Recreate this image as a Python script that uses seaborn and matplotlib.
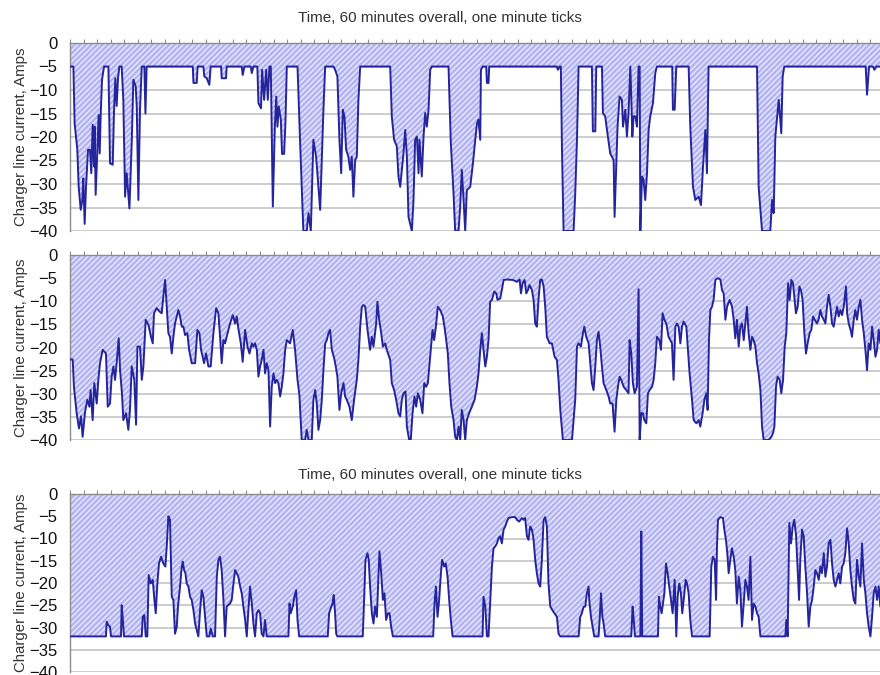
import numpy as np
import matplotlib
matplotlib.use("Agg")
import matplotlib.pyplot as plt
import seaborn as sns

# Charger line current (Amps) vs time (minutes), three traces
top_t = [0, 0.25, 0.34, 0.54, 0.64, 0.79, 0.91, 0.98, 1.08, 1.18, 1.33, 1.47, 1.57, 1.67, 1.77, 1.82,
         1.89, 2.02, 2.11, 2.19, 2.26, 2.36, 2.51, 2.83, 2.95, 3.15, 3.24, 3.34, 3.44, 3.54, 3.64, 3.81,
         3.93, 4.06, 4.18, 4.38, 4.55, 4.67, 4.84, 4.92, 5.04, 5.16, 5.29, 5.48, 5.56, 5.65, 9.05, 9.1,
         9.34, 9.41, 9.83, 9.9, 10.08, 10.27, 10.37, 11.14, 11.18, 11.5, 11.55, 12.66, 12.73, 12.86,
         13.32, 13.4, 13.52, 13.81, 13.89, 14.08, 14.16, 14.31, 14.46, 14.58, 14.7, 14.8, 14.95, 15.1,
         15.2, 15.29, 15.39, 15.54, 15.63, 15.78, 15.88, 15.98, 16.77, 16.96, 17.2, 17.45, 17.58, 17.75,
         17.94, 18.14, 18.31, 18.44, 18.56, 18.68, 18.81, 19.42, 19.54, 19.71, 19.86, 19.99, 20.11,
         20.23, 20.35, 20.52, 20.65, 20.77, 20.89, 21.02, 21.14, 21.26, 21.39, 23.6, 23.72, 23.89, 24.09,
         24.21, 24.34, 24.58, 24.71, 24.83, 24.95, 25.2, 25.32, 25.44, 25.57, 25.69, 25.76, 25.93, 26.06,
         26.18, 26.3, 26.43, 26.55, 26.67, 27.9, 28.07, 28.27, 28.39, 28.64, 28.76, 28.88, 29.01, 29.13,
         29.25, 29.5, 29.7, 29.87, 30.0, 30.11, 30.24, 30.29, 30.43, 30.68, 30.73, 30.85, 30.9, 35.89,
         35.96, 36.09, 36.18, 36.26, 36.38, 37.12, 37.24, 37.37, 37.49, 38.47, 38.54, 38.72, 38.79,
         39.21, 39.28, 39.45, 39.58, 39.82, 40.07, 40.14, 40.27, 40.36, 40.51, 40.68, 40.76, 40.93,
         41.05, 41.17, 41.3, 41.37, 41.45, 41.54, 41.67, 41.79, 41.91, 41.99, 42.04, 42.16, 42.28, 42.4,
         42.53, 42.65, 42.77, 42.97, 43.14, 43.26, 44.39, 44.44, 44.57, 44.69, 45.6, 45.72, 45.92, 46.09,
         46.34, 46.51, 46.66, 46.83, 46.95, 47.07, 50.64, 50.76, 51.01, 51.62, 51.75, 51.87, 51.99, 52.24,
         52.43, 52.53, 52.65, 58.65, 58.75, 58.9, 59.19, 59.29, 59.44, 60]
top_amps = [-5, -5, -17.1, -22.7, -30.6, -35.5, -33.4, -28.8, -38.5, -30.6, -22.7, -22.7, -27.7, -17.4,
            -26.3, -17.8, -32.3, -22.7, -15.3, -23.5, -15.6, -7.8, -5, -5, -25.6, -25.9, -14.9, -7.5,
            -13.4, -7.5, -5, -5, -12.1, -32.7, -27.7, -35.2, -21.3, -7.8, -9.2, -13.5, -33.4, -14.2, -5,
            -5, -15, -5, -5, -8.5, -8.5, -5, -5, -7.1, -7.5, -8.9, -5, -5, -7.5, -7.5, -5, -5, -6.8, -5,
            -5, -6.4, -5, -5, -12.8, -13.9, -5.7, -12.1, -5.7, -12.1, -5, -5, -34.8, -17.8, -11.4, -17.8,
            -13.5, -16.3, -23.6, -23.6, -17.1, -5, -5, -21, -40, -40, -36.2, -40, -20.6, -24.2, -30.6,
            -35.5, -24.9, -14.2, -5, -5, -5.7, -7.1, -20.6, -27.7, -14.2, -15.6, -22.7, -24.2, -27,
            -24.2, -32.7, -24.9, -24.2, -12.1, -5, -5, -15.6, -20.6, -22, -28.4, -30.6, -23.5, -18.5,
            -24.2, -37, -40, -33.4, -20.6, -19.9, -27.7, -20.6, -28.4, -19.9, -14.9, -17.8, -14.2, -5.7,
            -5, -5, -21.3, -32, -40, -40, -34.8, -27, -33.4, -40, -31.3, -30.6, -25.6, -20.6, -17.1,
            -16.3, -20.6, -5.7, -5, -5, -8.5, -8.5, -5, -5, -5.7, -5, -5, -22, -40, -40, -32, -20.6, -5,
            -5, -18.8, -18.8, -5, -5, -14.9, -15.6, -18.5, -23.5, -24.9, -37, -25.6, -17.8, -11.4, -12.1,
            -17.8, -14.2, -19.9, -14.9, -5, -11.4, -19.9, -15.6, -15.6, -17.8, -5, -5, -40, -28.4, -29.1,
            -33.4, -27.7, -18.5, -15.6, -12.8, -6.4, -5, -5, -14.2, -14.2, -5, -5, -17.8, -30.6, -33.4,
            -32.7, -34.5, -26.3, -18.5, -27.7, -5, -5, -30.6, -40, -40, -33.4, -36.2, -19.9, -12.1, -19.2,
            -7.1, -5, -5, -11, -5, -5, -5.7, -5, -5]

mid_t = [0, 0.2, 0.29, 0.49, 0.66, 0.81, 0.93, 1.11, 1.28, 1.43, 1.52, 1.67, 1.79, 1.97, 2.09, 2.21,
         2.41, 2.65, 2.78, 2.95, 3.07, 3.2, 3.32, 3.44, 3.59, 3.69, 3.83, 3.93, 4.13, 4.3, 4.42, 4.55,
         4.74, 4.87, 4.97, 5.16, 5.29, 5.41, 5.58, 5.78, 5.97, 6.1, 6.19, 6.39, 6.59, 6.76, 6.88, 7.01,
         7.13, 7.25, 7.37, 7.5, 7.62, 7.74, 7.99, 8.11, 8.24, 8.36, 8.48, 8.65, 8.78, 8.97, 9.22, 9.39,
         9.54, 9.66, 9.88, 10.03, 10.2, 10.37, 10.57, 10.77, 10.94, 11.06, 11.18, 11.31, 11.43, 11.55,
         11.8, 12.0, 12.17, 12.29, 12.41, 12.59, 12.73, 12.91, 13.08, 13.23, 13.4, 13.52, 13.64, 13.77,
         13.89, 14.01, 14.13, 14.26, 14.38, 14.5, 14.63, 14.75, 14.87, 15.0, 15.12, 15.24, 15.36, 15.49,
         15.61, 15.73, 15.86, 15.98, 16.22, 16.42, 16.59, 16.77, 16.91, 17.08, 17.33, 17.45, 17.58,
         17.82, 17.94, 18.07, 18.19, 18.31, 18.44, 18.56, 18.68, 18.81, 18.93, 19.05, 19.17, 19.3, 19.47,
         19.59, 19.71, 19.86, 19.99, 20.16, 20.28, 20.4, 20.6, 20.77, 20.94, 21.14, 21.26, 21.39, 21.51,
         21.63, 21.76, 21.93, 22.12, 22.25, 22.37, 22.57, 22.66, 22.79, 22.94, 23.06, 23.23, 23.35, 23.6,
         23.72, 23.89, 24.04, 24.21, 24.34, 24.46, 24.58, 24.73, 24.83, 25.0, 25.12, 25.25, 25.39, 25.52,
         25.64, 25.81, 25.98, 26.11, 26.25, 26.38, 26.55, 26.72, 26.84, 26.97, 27.11, 27.29, 27.48, 27.6,
         27.73, 27.85, 27.97, 28.1, 28.27, 28.39, 28.52, 28.64, 28.76, 28.88, 29.01, 29.13, 29.25, 29.42,
         29.62, 29.82, 29.99, 30.11, 30.24, 30.36, 30.48, 30.61, 30.73, 30.85, 30.97, 31.1, 31.27, 31.42,
         31.51, 31.71, 31.83, 31.96, 32.2, 32.65, 32.94, 33.14, 33.24, 33.36, 33.51, 33.63, 33.75, 33.87,
         34.05, 34.17, 34.29, 34.41, 34.54, 34.66, 34.78, 34.91, 35.03, 35.15, 35.35, 35.52, 35.72, 35.89,
         36.01, 36.14, 36.33, 37.0, 37.12, 37.24, 37.37, 37.49, 37.66, 37.81, 37.91, 38.05, 38.23, 38.35,
         38.47, 38.59, 38.72, 38.84, 38.96, 39.08, 39.21, 39.33, 39.53, 39.7, 39.82, 39.99, 40.14, 40.27,
         40.39, 40.51, 40.63, 40.81, 41.0, 41.17, 41.25, 41.37, 41.49, 41.62, 41.79, 41.91, 41.99, 42.11,
         42.23, 42.33, 42.48, 42.6, 42.72, 42.9, 43.02, 43.14, 43.26, 43.44, 43.56, 43.68, 43.81, 43.95,
         44.12, 44.25, 44.37, 44.49, 44.62, 44.74, 44.86, 44.99, 45.11, 45.23, 45.43, 45.55, 45.67, 45.85,
         45.97, 46.17, 46.34, 46.46, 46.63, 46.76, 46.9, 47.0, 47.1, 47.2, 47.32, 47.44, 47.57, 47.74,
         47.94, 48.06, 48.18, 48.31, 48.43, 48.62, 48.8, 48.92, 49.04, 49.16, 49.29, 49.41, 49.53, 49.66,
         49.78, 49.9, 50.02, 50.15, 50.27, 50.39, 50.52, 50.64, 50.76, 50.89, 51.01, 51.13, 51.5, 51.7,
         51.82, 51.92, 52.04, 52.16, 52.31, 52.43, 52.56, 52.68, 52.8, 52.93, 53.05, 53.17, 53.29, 53.39,
         53.51, 53.64, 53.76, 53.88, 54.0, 54.13, 54.25, 54.37, 54.52, 54.64, 54.77, 54.89, 55.06, 55.18,
         55.31, 55.43, 55.56, 55.68, 55.8, 55.92, 56.05, 56.17, 56.29, 56.42, 56.54, 56.66, 56.78, 56.91,
         57.03, 57.2, 57.28, 57.4, 57.57, 57.64, 57.77, 57.89, 58.01, 58.14, 58.26, 58.38, 58.51, 58.63,
         58.75, 58.87, 59.0, 59.12, 59.24, 59.37, 59.49, 59.61, 59.73, 60]
mid_amps = [-22.6, -22.6, -28.5, -34.2, -37.5, -34.9, -39.3, -33.9, -31.3, -32.8, -29.2, -35.7, -27.7,
            -32.1, -27, -23.4, -20.5, -21.3, -32.8, -32.1, -26.3, -24.1, -27, -23.4, -18, -24.9, -29.9,
            -35.7, -34.2, -37.8, -33.5, -24.1, -27, -36.7, -19.8, -19.8, -27, -24.1, -14, -15.1, -17.7,
            -19.1, -12.6, -11.5, -12.2, -12.6, -9, -5.4, -11.2, -16.9, -17.7, -21.3, -17.7, -14.8, -11.9,
            -13.3, -15.5, -15.5, -17.3, -16.9, -20.5, -23.4, -23.4, -16.2, -16.9, -20.5, -23.4, -21.3,
            -24.1, -24.1, -16.9, -11.5, -12.6, -17.7, -23.4, -18.4, -19.1, -17.7, -14.8, -13, -14.8, -13.3,
            -15.9, -19.1, -23.1, -16.2, -19.8, -21.3, -19.1, -19.8, -19.1, -20.5, -26.3, -24.1, -22.7,
            -20.5, -25.6, -23.4, -24.9, -37.1, -28.5, -25.6, -27.7, -27, -27.7, -30.6, -28.5, -25.6, -20.5,
            -18.4, -19.1, -16.2, -20.5, -27, -30.3, -40, -40, -37.8, -40, -40, -31.3, -29.2, -32.1, -37.8,
            -35.7, -31.3, -24.9, -19.1, -18.4, -16.9, -16.2, -20.5, -22.3, -24.1, -26.3, -33.5, -29.9,
            -27.7, -30.6, -31.3, -32.8, -35.7, -31.3, -27, -22.7, -15.5, -11.2, -10.8, -11.2, -16.2, -20.5,
            -17.7, -19.8, -14.8, -10.1, -14, -16.9, -19.8, -19.1, -20.5, -22.7, -27.7, -29.2, -31.3, -34.2,
            -34.9, -31.3, -29.9, -29.5, -37.1, -40, -40, -34.2, -30.6, -32.8, -29.9, -31.3, -34.2, -27.7,
            -28.5, -27.7, -22, -16.2, -18.4, -15.5, -11.2, -11.9, -13.3, -15.5, -18.4, -21.3, -27.7, -32.8,
            -35.7, -39.3, -40, -37.1, -40, -33.5, -35.7, -40, -35.7, -34.2, -32.8, -31.3, -28.5, -25.6,
            -20.5, -16.9, -20.5, -24.1, -22, -18.4, -10.1, -9.7, -7.9, -8.3, -9.7, -9.4, -7.6, -5.4, -5.3,
            -5.4, -5.8, -5.3, -8.3, -6.1, -5.4, -8.3, -7.6, -6.5, -7.6, -9.7, -14.8, -15.5, -9.4, -5.4,
            -5.3, -6.8, -11.2, -17.7, -19.1, -19.1, -22, -22.7, -27, -33.5, -40, -40, -35.7, -31.3, -19.8,
            -19.1, -19.8, -16.9, -15.5, -17.7, -19.1, -23.4, -27.7, -29.2, -24.1, -18.4, -16.6, -19.8,
            -24.1, -27.7, -29.2, -30.6, -32.1, -32.1, -38.2, -31.3, -28.5, -26.3, -27, -28.5, -29.2, -29.9,
            -18.4, -21.3, -27.7, -29.9, -28.5, -7.4, -40, -34.2, -34.2, -35.7, -36.4, -29.9, -29.2, -28.5,
            -27, -23.4, -17.7, -18.4, -20.5, -12.6, -14, -14.8, -17.7, -18.4, -19.1, -27, -15.5, -14.8,
            -15.5, -19.1, -15.5, -14.4, -15.5, -20.5, -25.6, -31.3, -35.7, -36.4, -35.7, -37.1, -34.2,
            -31.3, -29.9, -33.5, -18.4, -11.9, -11.2, -9.7, -5.4, -5, -5.3, -7.6, -8.3, -14, -11.2, -9.7,
            -11.2, -14, -18, -14, -19.8, -15.5, -14.8, -18.4, -14.8, -11.2, -16.9, -20.5, -17.7, -18.4,
            -19.8, -23.4, -25.6, -29.2, -37.1, -40, -40, -39.3, -38.5, -37.1, -28.5, -26.3, -27, -29.9, -27,
            -19.8, -16.9, -6.1, -9.7, -5.4, -6.1, -9, -12.6, -11.2, -6.8, -7.6, -9.7, -16.9, -21.3, -19.1,
            -16.9, -16.2, -13.3, -14, -14.8, -14, -11.9, -13.3, -14, -14.8, -11.2, -8.6, -11.2, -14.8,
            -15.5, -13.3, -11.2, -13.3, -11.9, -13, -11.2, -6.8, -12.6, -14.8, -16.6, -17.7, -14, -11.9,
            -14, -11.2, -9.7, -14, -16.9, -20.5, -24.9, -19.1, -20.5, -15.5, -18.4, -22, -20.5, -16.2,
            -19.1, -20]

bot_t = [0, 2.65, 2.7, 2.83, 2.95, 3.02, 3.76, 3.81, 3.88, 3.98, 5.29, 5.36, 5.48, 5.58, 5.7, 5.8,
         5.95, 6.1, 6.22, 6.32, 6.44, 6.56, 6.71, 6.88, 7.03, 7.13, 7.25, 7.37, 7.5, 7.62, 7.74, 7.87,
         7.96, 8.11, 8.24, 8.31, 8.41, 8.51, 8.6, 8.73, 8.85, 8.97, 9.1, 9.22, 9.34, 9.46, 9.59, 9.71,
         9.83, 9.96, 10.08, 10.28, 10.37, 10.52, 10.69, 10.82, 10.94, 11.06, 11.18, 11.31, 11.43, 11.55,
         11.8, 11.92, 12.05, 12.17, 12.29, 12.41, 12.54, 12.66, 12.78, 12.91, 13.03, 13.15, 13.27, 13.4,
         13.52, 13.64, 13.77, 13.89, 14.01, 14.13, 14.26, 14.38, 14.5, 16.1, 16.18, 16.27, 16.42, 16.54,
         16.67, 16.77, 16.89, 19.0, 19.1, 19.22, 19.35, 19.44, 19.54, 19.62, 19.71, 21.58, 21.68, 21.78,
         21.93, 22.02, 22.12, 22.25, 22.37, 22.49, 22.62, 22.69, 22.81, 22.94, 23.06, 23.18, 23.3, 23.43,
         23.55, 23.67, 23.8, 26.77, 26.87, 26.97, 27.09, 27.21, 27.34, 27.43, 27.58, 27.7, 27.83, 27.95,
         28.07, 28.2, 30.41, 30.48, 30.61, 30.73, 30.85, 30.97, 31.1, 31.22, 31.34, 31.47, 31.59, 31.71,
         31.83, 31.96, 32.08, 32.2, 32.33, 32.57, 32.82, 32.94, 33.11, 33.31, 33.43, 33.55, 33.68, 33.8,
         33.92, 34.05, 34.17, 34.29, 34.41, 34.54, 34.66, 34.78, 34.91, 35.03, 35.15, 35.27, 35.4, 35.64,
         35.89, 36.01, 36.14, 37.49, 37.61, 37.73, 37.86, 37.98, 38.1, 38.23, 38.27, 38.4, 38.52, 38.64,
         38.96, 39.04, 39.14, 39.24, 39.33, 39.45, 41.37, 41.47, 41.54, 41.64, 42.04, 42.11, 42.18, 43.34,
         43.41, 43.51, 43.61, 43.71, 43.81, 43.93, 44.05, 44.17, 44.3, 44.42, 44.57, 44.69, 44.79, 44.91,
         45.03, 45.13, 45.26, 45.38, 45.48, 45.6, 45.72, 45.85, 47.15, 47.27, 47.39, 47.52, 47.62, 47.69,
         47.76, 47.94, 48.13, 48.23, 48.35, 48.45, 48.55, 48.67, 48.79, 48.92, 49.04, 49.16, 49.29, 49.41,
         49.53, 49.66, 49.78, 49.9, 50.02, 50.15, 50.27, 50.39, 50.52, 50.64, 50.76, 50.89, 52.73, 52.8,
         52.9, 53.02, 53.15, 53.27, 53.39, 53.52, 53.64, 53.74, 53.83, 53.96, 54.08, 54.2, 54.33, 54.45,
         54.57, 54.7, 54.82, 54.94, 55.06, 55.19, 55.31, 55.43, 55.56, 55.68, 55.8, 55.92, 56.05, 56.17,
         56.29, 56.42, 56.54, 56.66, 56.78, 56.91, 57.03, 57.15, 57.28, 57.4, 57.52, 57.64, 57.77, 57.89,
         58.01, 58.14, 58.26, 58.38, 58.51, 58.63, 58.75, 58.87, 59.0, 59.12, 59.24, 59.37, 59.49, 59.61,
         59.73, 60]
bot_amps = [-32, -32, -28.7, -29.5, -29.8, -32, -32, -25, -27.6, -32, -32, -27.6, -27.2, -32, -32,
            -18.2, -20.1, -19.3, -23.8, -26.8, -20.1, -15.6, -14.1, -15.6, -16.3, -11.8, -5, -5.8, -23.1,
            -23.8, -31.4, -29.8, -25.3, -20.8, -16.3, -15.2, -17.1, -17.8, -20.1, -20.8, -23.1, -23.8,
            -26.1, -29.1, -30.6, -32, -26.1, -21.6, -23.1, -27.6, -32, -32, -30.2, -32, -32, -18.6, -14.8,
            -14.1, -17.1, -23.8, -32, -25.3, -24.6, -23.8, -20.1, -17.1, -17.8, -18.6, -20.8, -22.3, -25.3,
            -28.3, -32, -26.1, -20.8, -24.6, -29.1, -32, -26.8, -26.1, -26.8, -31.4, -32, -28.3, -32, -32,
            -24.6, -26.8, -25.3, -23.1, -21.6, -28.3, -32, -32, -26.8, -25.7, -24.6, -22.7, -26.8, -31.4,
            -32, -32, -23.8, -14.8, -13.3, -14.8, -20.8, -26.8, -29.1, -25.3, -27.6, -22.3, -12.9, -17.8,
            -23.8, -22.3, -28.3, -26.8, -26.8, -29.8, -32, -32, -24.6, -20.8, -27.6, -23.8, -17.8, -14.8,
            -16.3, -15.6, -18.6, -23.8, -28.3, -32, -32, -23.1, -25.3, -32, -32, -24.6, -16.3, -12.2,
            -11.8, -11.1, -9.9, -9.5, -11.1, -8, -7.3, -6.2, -5.4, -5.2, -5.2, -5.8, -6.2, -5.4, -5.8,
            -5.4, -9.5, -10.3, -7.3, -8, -10.3, -14.8, -17.8, -20.1, -20.8, -14.8, -5.8, -5.2, -7.3, -20.1,
            -25.3, -26.5, -27.6, -31.4, -32, -32, -27.6, -26.8, -25.3, -25.3, -22.3, -20.8, -23.8, -27.6,
            -29.8, -32, -32, -28.3, -22.3, -27.6, -29.1, -32, -32, -25.3, -27.6, -32, -32, -8.4, -32, -32,
            -23.1, -25.3, -26.8, -24.6, -22.3, -15.6, -17.8, -20.8, -23.8, -26.8, -19.3, -32, -23.1, -20.1,
            -22.3, -26.8, -23.1, -19.3, -20.1, -22.3, -28.3, -32, -32, -16.3, -14.1, -14.8, -23.8, -11.8,
            -5.8, -5.2, -5.4, -8, -10.3, -13.3, -17.8, -14.8, -12.2, -14.1, -17.1, -24.6, -18.6, -21.6,
            -29.8, -24.6, -19.3, -20.8, -23.8, -14.1, -28.3, -24.6, -25.3, -26.8, -27.6, -32, -32, -28.3,
            -32, -6.5, -11.1, -7.3, -5.8, -9.5, -17.1, -23.8, -14.8, -8, -9.5, -16.3, -22.3, -29.8, -25.3,
            -23.8, -20.8, -17.1, -17.8, -19.3, -16.3, -17.8, -13.3, -18.6, -16.3, -11.1, -10.3, -15.6,
            -19.3, -20.8, -19.3, -17.8, -20.1, -16.3, -15.6, -13.3, -7.7, -11.1, -17.1, -20.8, -23.8, -24.6,
            -14.8, -18.6, -20.8, -11.1, -19.3, -22.3, -26.8, -29.8, -32, -27.6, -22.3, -20.8, -23.8, -20.8,
            -25.3, -25]

title = "Time, 60 minutes overall, one minute ticks"
ylab = "Charger line current, Amps"
yticks = [0, -5, -10, -15, -20, -25, -30, -35, -40]

sns.set_style("white")
plt.rcParams["font.family"] = ["Liberation Sans", "DejaVu Sans"]
plt.rcParams["hatch.linewidth"] = 1.1

line_col = "#24249c"
fill_col = "#b2b2f2"
hatch_col = "#e6e6fe"
grid_col = "#c4c4c4"
axis_col = "#8c8c8c"

fig = plt.figure(figsize=(8.8, 6.75), dpi=100)
left, width = 70 / 880, 814 / 880
rects = [(1 - 231 / 675, 188 / 675), (1 - 440 / 675, 185 / 675), (1 - 672 / 675, 178 / 675)]
series = [(top_t, top_amps), (mid_t, mid_amps), (bot_t, bot_amps)]

for (bottom, height), (t, amps) in zip(rects, series):
    ax = fig.add_axes([left, bottom, width, height])
    ax.set_axisbelow(True)
    ax.fill_between(t, 0, amps, facecolor=fill_col, edgecolor=hatch_col,
                    hatch="//////", linewidth=0, zorder=1)
    sns.lineplot(x=t, y=amps, ax=ax, color=line_col, lw=1.4, estimator=None,
                 sort=False, zorder=3)
    ax.set_xlim(0, 60)
    ax.set_ylim(-40, 0)
    ax.set_yticks(yticks)
    ax.set_xticks(np.arange(0, 61, 1))
    ax.xaxis.tick_top()
    ax.tick_params(axis="x", which="both", direction="out", length=3, width=0.8,
                   color=axis_col, labeltop=False, labelbottom=False)
    ax.tick_params(axis="y", direction="out", length=4, width=0.8, color=axis_col,
                   labelsize=12, pad=5, labelcolor="#111111")
    ax.yaxis.grid(True, color=grid_col, lw=1.2)
    ax.xaxis.grid(False)
    for side in ["bottom", "right"]:
        ax.spines[side].set_visible(False)
    for side in ["left", "top"]:
        ax.spines[side].set_color(axis_col)
        ax.spines[side].set_linewidth(1.0)
    ax.set_xlabel("")
    ax.set_ylabel(ylab, fontsize=10.8, color="#333333")
    ax.yaxis.set_label_coords(-0.052, 0.5)

fig.text(440 / 880, 1 - 18 / 675, title, ha="center", va="center", fontsize=11, color="#333333")
fig.text(440 / 880, 1 - 475 / 675, title, ha="center", va="center", fontsize=11, color="#333333")

fig.savefig("out.png", dpi=100)
